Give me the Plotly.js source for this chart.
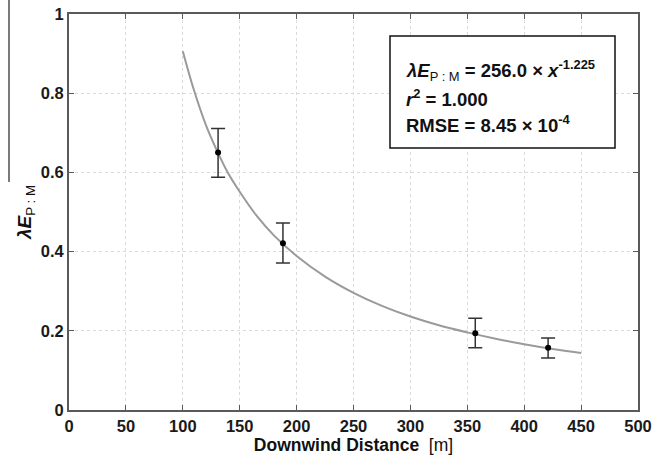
<!DOCTYPE html>
<html>
<head>
<meta charset="utf-8">
<script src="https://cdn.plot.ly/plotly-3.0.1.min.js"></script>
<style>html,body{margin:0;padding:0;background:#fff;}#chart{width:654px;height:460px;}</style>
</head>
<body>
<div id="chart"></div>
<script>
// Measured points (downwind distance [m], λE_P:M) with error bar extents
const distance = [131, 188, 357, 421];
const lambdaE = [0.650, 0.421, 0.194, 0.157];
const errUpper = [0.711, 0.472, 0.232, 0.182];
const errLower = [0.588, 0.371, 0.157, 0.131];

// Fitted curve
const fitX = [100, 110, 120, 130, 140, 150, 165, 180, 200, 225, 250, 275, 300, 325, 350, 375, 400, 425, 450];
const fitY = [0.906, 0.806, 0.722, 0.655, 0.597, 0.551, 0.490, 0.441, 0.389, 0.337, 0.296, 0.263, 0.236, 0.214, 0.196, 0.180, 0.166, 0.154, 0.144];

const xTicks = [0, 50, 100, 150, 200, 250, 300, 350, 400, 450, 500];
const yTicks = [0, 0.2, 0.4, 0.6, 0.8, 1];
const yTickText = ['0', '0.2', '0.4', '0.6', '0.8', '1'];

const plus = errUpper.map((u, i) => u - lambdaE[i]);
const minus = errLower.map((l, i) => lambdaE[i] - l);

const FONT = 'Liberation Sans, Arial, Helvetica, sans-serif';

const traces = [
  {
    x: fitX, y: fitY, type: 'scatter', mode: 'lines',
    line: {color: '#9a9a9a', width: 2, shape: 'spline'},
    hoverinfo: 'skip'
  },
  {
    x: distance, y: lambdaE, type: 'scatter', mode: 'markers',
    marker: {color: '#000', size: 6},
    error_y: {type: 'data', symmetric: false, array: plus, arrayminus: minus,
              color: '#333', thickness: 1.5, width: 7}
  }
];

const layout = {
  width: 654, height: 460,
  margin: {l: 69, r: 16, t: 14, b: 50},
  paper_bgcolor: '#fff', plot_bgcolor: '#fff',
  showlegend: false,
  font: {family: FONT, color: '#111', size: 16},
  xaxis: {
    range: [0, 500], tickvals: xTicks, ticktext: xTicks.map(String),
    showgrid: true, gridcolor: '#dadada', griddash: 'dot', gridwidth: 1,
    zeroline: false, showline: true, linecolor: '#5a5a5a', linewidth: 2, mirror: 'ticks',
    ticks: 'inside', ticklen: 5, tickcolor: '#5a5a5a',
    tickfont: {family: FONT, size: 16.5, color: '#1a1a1a', weight: 'bold'},
    title: {text: '<b>Downwind Distance</b>  [m]', font: {family: FONT, size: 17.5, color: '#111'}, standoff: 2}
  },
  yaxis: {
    range: [0, 1], tickvals: yTicks, ticktext: yTickText,
    showgrid: true, gridcolor: '#dadada', griddash: 'dot', gridwidth: 1,
    zeroline: false, showline: true, linecolor: '#5a5a5a', linewidth: 2, mirror: 'ticks',
    ticks: 'inside', ticklen: 5, tickcolor: '#5a5a5a',
    tickfont: {family: FONT, size: 16.5, color: '#1a1a1a', weight: 'bold'},
    title: {text: '<b><i>λE</i></b><sub>P : M</sub>', font: {family: FONT, size: 19, color: '#111'}, standoff: 4}
  },
  shapes: [
    {type: 'rect', xref: 'paper', yref: 'paper',
     x0: (390 - 69) / 569, x1: (615 - 69) / 569,
     y0: (410 - 148) / 396, y1: (410 - 36) / 396,
     line: {color: '#111', width: 1.5}, fillcolor: '#fff', layer: 'above'},
    {type: 'line', xref: 'paper', yref: 'paper',
     x0: (9 - 69) / 569, x1: (9 - 69) / 569,
     y0: (410 - 182) / 396, y1: (410 - 0) / 396,
     line: {color: '#222', width: 1.2}}
  ],
  annotations: [
    {xref: 'paper', yref: 'paper', x: (404 - 69) / 569, y: (410 - 70) / 396,
     xanchor: 'left', yanchor: 'middle', showarrow: false,
     text: '<b><i>λE</i></b><sub>P : M</sub><b> = 256.0 × <i>x</i><sup>-1.225</sup></b>',
     font: {family: FONT, size: 18.5, color: '#111'}},
    {xref: 'paper', yref: 'paper', x: (404 - 69) / 569, y: (410 - 98) / 396,
     xanchor: 'left', yanchor: 'middle', showarrow: false,
     text: '<b><i>r</i><sup>2</sup> = 1.000</b>',
     font: {family: FONT, size: 18.5, color: '#111'}},
    {xref: 'paper', yref: 'paper', x: (404 - 69) / 569, y: (410 - 124) / 396,
     xanchor: 'left', yanchor: 'middle', showarrow: false,
     text: '<b>RMSE = 8.45 × 10<sup>-4</sup></b>',
     font: {family: FONT, size: 18.5, color: '#111'}}
  ]
};

Plotly.newPlot('chart', traces, layout, {displayModeBar: false, staticPlot: true});
</script>
</body>
</html>
